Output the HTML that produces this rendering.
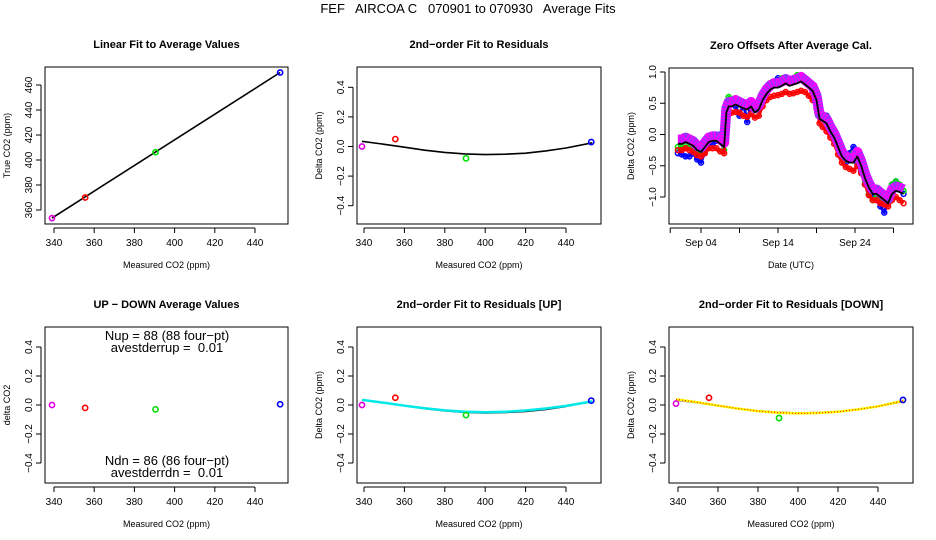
<!DOCTYPE html>
<html><head><meta charset="utf-8"><style>
body{margin:0;background:#fff}
svg{display:block;font-family:"Liberation Sans",sans-serif}
text{white-space:pre}
</style></head><body>
<svg id="c" width="936" height="540" viewBox="0 0 936 540">
<text x="468" y="13" font-size="13" text-anchor="middle" xml:space="preserve">FEF   AIRCOA C   070901 to 070930   Average Fits</text>
</svg>
<script>
// ---- data ----
const calX = [339, 355.5, 390.5, 452.5];
const calColors = ['#e000e0', '#ff0000', '#00e000', '#0000ff'];
const trueCO2 = [353.5, 370, 406.2, 470];
const residAll = [0.0, 0.05, -0.08, 0.03];
const residUp = [0.0, 0.05, -0.07, 0.03];
const residDn = [0.01, 0.05, -0.09, 0.035];
const upMinusDown = [0.0, -0.02, -0.03, 0.005];
const fitX = [339, 350, 360, 370, 380, 390, 400, 410, 420, 430, 440, 453];
const fitAll = [0.035, 0.015, -0.005, -0.025, -0.04, -0.05, -0.055, -0.052, -0.045, -0.03, -0.01, 0.025];
const fitUp = [0.035, 0.015, -0.005, -0.022, -0.037, -0.047, -0.05, -0.047, -0.038, -0.024, -0.006, 0.025];
const fitDn = [0.04, 0.018, -0.004, -0.025, -0.042, -0.053, -0.058, -0.055, -0.046, -0.03, -0.01, 0.03];
const xTicks = [340, 360, 380, 400, 420, 440];
const yTicksTrue = [360, 380, 400, 420, 440, 460];
const yTicksResid = [-0.4, -0.2, 0.0, 0.2, 0.4];
const yTicksZero = [-1.0, -0.5, 0.0, 0.5, 1.0];
const dayX = [1, 1.5, 2, 2.5, 3, 3.5, 4, 4.5, 5, 5.5, 6, 6.5, 7, 7.3, 7.6, 8, 8.5, 9, 9.5, 10, 10.5, 11, 11.5, 12, 12.5, 13, 13.5, 14, 14.5, 15, 15.5, 16, 16.5, 17, 17.5, 18, 18.5, 19, 19.4, 19.8, 20.3, 20.8, 21.3, 21.8, 22.3, 22.8, 23.3, 23.8, 24.3, 24.8, 25.3, 25.8, 26.3, 26.8, 27.3, 27.8, 28.3, 28.8, 29.3, 29.8, 30.3];
const zeroMean = [-0.15, -0.15, -0.12, -0.15, -0.18, -0.25, -0.28, -0.2, -0.12, -0.1, -0.1, -0.15, -0.2, 0.35, 0.45, 0.45, 0.48, 0.45, 0.42, 0.4, 0.45, 0.35, 0.4, 0.55, 0.65, 0.72, 0.75, 0.75, 0.78, 0.82, 0.78, 0.8, 0.82, 0.85, 0.8, 0.75, 0.7, 0.55, 0.25, 0.22, 0.18, 0.05, -0.05, -0.2, -0.35, -0.42, -0.45, -0.45, -0.35, -0.5, -0.7, -0.85, -0.95, -0.95, -1.0, -1.05, -1.1, -0.95, -0.9, -0.92, -0.95];
const zeroRed = [-0.25, -0.25, -0.22, -0.25, -0.28, -0.33, -0.35, -0.3, -0.22, -0.22, -0.22, -0.27, -0.3, 0.25, 0.32, 0.35, 0.36, 0.35, 0.3, 0.28, 0.33, 0.27, 0.3, 0.45, 0.55, 0.6, 0.62, 0.63, 0.65, 0.68, 0.65, 0.66, 0.68, 0.7, 0.68, 0.62, 0.55, 0.42, 0.18, 0.12, 0.05, -0.05, -0.15, -0.32, -0.45, -0.52, -0.55, -0.58, -0.5, -0.62, -0.8, -0.97, -1.05, -1.05, -1.1, -1.12, -1.15, -1.05, -1.0, -1.05, -1.1];
const zeroBlue = [-0.3, -0.32, -0.35, -0.35, -0.3, -0.4, -0.45, -0.28, -0.2, -0.15, -0.1, 0.0, -0.15, 0.3, 0.5, 0.5, 0.45, 0.3, 0.5, 0.2, 0.5, 0.4, 0.4, 0.6, 0.75, 0.8, 0.85, 0.9, 0.85, 0.88, 0.85, 0.9, 0.9, 0.9, 0.85, 0.8, 0.75, 0.55, 0.35, 0.25, 0.3, 0.1, -0.05, -0.2, -0.35, -0.45, -0.3, -0.2, -0.45, -0.6, -0.8, -0.9, -0.95, -1.05, -1.15, -1.25, -1.05, -0.8, -0.75, -0.85, -0.95];
const zeroGreen = [-0.2, -0.2, -0.18, -0.2, -0.25, -0.28, -0.3, -0.15, -0.05, 0.0, -0.05, -0.1, -0.25, 0.3, 0.6, 0.55, 0.55, 0.5, 0.5, 0.45, 0.5, 0.4, 0.45, 0.65, 0.75, 0.8, 0.85, 0.85, 0.9, 0.9, 0.88, 0.9, 0.95, 0.9, 0.85, 0.82, 0.78, 0.55, 0.3, 0.25, 0.2, 0.15, 0.0, -0.2, -0.3, -0.4, -0.35, -0.3, -0.4, -0.55, -0.75, -0.95, -1.05, -1.0, -1.05, -1.1, -1.05, -0.8, -0.75, -0.8, -0.9];
const dateTickDays = [0, 4, 9, 14, 19, 24, 29];
const dateTickLabels = ['', 'Sep 04', '', 'Sep 14', '', 'Sep 24', ''];

const NS = 'http://www.w3.org/2000/svg';
const svg = document.getElementById('c');
function mk(tag, attrs, parent) {
  const e = document.createElementNS(NS, tag);
  for (const k in attrs) e.setAttribute(k, attrs[k]);
  (parent || svg).appendChild(e);
  return e;
}
function txt(parent, x, y, s, size, extra) {
  const t = mk('text', Object.assign({x: x, y: y, 'font-size': size, 'text-anchor': 'middle'}, extra || {}), parent);
  t.textContent = s;
  return t;
}
function fmt(v, d) { return v.toFixed(d).replace('-', '\u2212'); }

function panel(p) {
  const g = mk('g', {});
  
  
  const b = p.box;
  const fr = mk('rect', {x: b[0], y: b[1], width: b[2] - b[0], height: b[3] - b[1], fill: 'none', stroke: '#000', 'stroke-width': 1}, g);
  
  
  const tt = txt(g, (b[0] + b[2]) / 2, b[1] - 19, p.title, 11, {'font-weight': 'bold'});
  
  
  const xa = mk('g', {}, g);
  
  
  const xs = p.xt.map(p.sx);
  mk('line', {x1: xs[0], x2: xs[xs.length - 1], y1: b[3] + 4, y2: b[3] + 4, stroke: '#000'}, xa);
  p.xt.forEach((v, i) => {
    mk('line', {x1: xs[i], x2: xs[i], y1: b[3] + 4, y2: b[3] + 9, stroke: '#000'}, xa);
    if (p.xl[i]) {
      const t = txt(xa, xs[i], b[3] + 22, p.xl[i], 10);
      
      
    }
  });
  const xt = txt(g, (b[0] + b[2]) / 2, b[3] + 44, p.xlab, 9);
  
  
  const ya = mk('g', {}, g);
  
  
  const ys = p.yt.map(p.sy);
  const ax = b[0] - 4;
  mk('line', {x1: ax, x2: ax, y1: ys[0], y2: ys[ys.length - 1], stroke: '#000'}, ya);
  p.yt.forEach((v, i) => {
    mk('line', {x1: ax - 5, x2: ax, y1: ys[i], y2: ys[i], stroke: '#000'}, ya);
    const t = txt(ya, 0, 0, p.yl[i], 10, {transform: 'translate(' + (ax - 9) + ',' + ys[i] + ') rotate(-90)'});
    
    
  });
  const yy = (b[1] + b[3]) / 2;
  const yt = txt(g, 0, 0, p.ylab, 9, {transform: 'translate(' + (b[0] - 35) + ',' + yy + ') rotate(-90)'});
  
  
  return g;
}
function pts(g, xv, yv, sx, sy, name) {
  xv.forEach((x, i) => {
    const c = mk('circle', {cx: sx(x), cy: sy(yv[i]), r: 2.6, fill: 'none', stroke: calColors[i], 'stroke-width': 1.6}, g);
    
    
  });
}
function line(g, xv, yv, sx, sy, color, w, name, dash) {
  const d = xv.map((x, i) => (i ? 'L' : 'M') + sx(x).toFixed(1) + ',' + sy(yv[i]).toFixed(1)).join('');
  const a = {d: d, fill: 'none', stroke: color, 'stroke-width': w, 'stroke-linejoin': 'round'};
  if (dash) a['stroke-dasharray'] = dash;
  const l = mk('path', a, g);
  
  
  return l;
}
const fx = t => fmt(t, 0);
const fr1 = t => fmt(t, 1);

{
  const sx = v => 54 + (v - 340) * 2.01, sy = v => 210 - (v - 360) * 1.25;
  const g = panel({name: 'linear-fit-panel', box: [45, 67, 288, 224], title: 'Linear Fit to Average Values', xt: xTicks, xl: xTicks.map(fx), sx: sx, yt: yTicksTrue, yl: yTicksTrue.map(fx), sy: sy, xlab: 'Measured CO2 (ppm)', ylab: 'True CO2 (ppm)'});
  line(g, [calX[0], calX[3]], [trueCO2[0], trueCO2[3]], sx, sy, '#000', 1.6, 'linear-fit-line');
  pts(g, calX, trueCO2, sx, sy, 'calibration');
}
{
  const sx = v => 364 + (v - 340) * 2.02, sy = v => 146.5 - v * 148;
  const g = panel({name: 'residual-fit-panel', box: [357, 67, 601, 224], title: '2nd\u2212order Fit to Residuals', xt: xTicks, xl: xTicks.map(fx), sx: sx, yt: yTicksResid, yl: yTicksResid.map(fr1), sy: sy, xlab: 'Measured CO2 (ppm)', ylab: 'Delta CO2 (ppm)'});
  line(g, fitX, fitAll, sx, sy, '#000', 1.6, 'quadratic-fit-line');
  pts(g, calX, residAll, sx, sy, 'residual');
}
{
  const sx = d => 701 + (d - 4) * 7.7, sy = v => 134.5 - v * 62.5;
  const g = panel({name: 'zero-offsets-panel', box: [669, 68, 913, 224], title: 'Zero Offsets After Average Cal.', xt: dateTickDays, xl: dateTickLabels, sx: sx, yt: yTicksZero, yl: yTicksZero.map(fr1), sy: sy, xlab: 'Date (UTC)', ylab: 'Delta CO2 (ppm)'});
  const series = [[zeroBlue, '#0000ff', 'blue-offsets'], [zeroGreen, '#00e000', 'green-offsets'], [zeroRed, '#ff0000', 'red-offsets']];
  series.forEach(s => {
    line(g, dayX, s[0], sx, sy, s[1], 3, s[2] + '-band');
    dayX.forEach((d, i) => {
      const c = mk('circle', {cx: sx(d), cy: sy(s[0][i]), r: 2.5, fill: 'none', stroke: s[1], 'stroke-width': 1.5}, g);
      
      
    });
  });
  const magOff = zeroMean.map(v => v + 0.07);
  line(g, dayX, magOff, sx, sy, '#9a30ff', 10, 'magenta-offsets-band');
  line(g, dayX, magOff, sx, sy, '#ff00ff', 10, 'magenta-offsets-texture', '1.5 1.5');
  line(g, dayX, zeroMean, sx, sy, '#000', 1.8, 'mean-offset-line');
}
{
  const sx = v => 54 + (v - 340) * 2.01, sy = v => 405 - v * 145;
  const g = panel({name: 'up-down-panel', box: [45, 327, 288, 483], title: 'UP \u2212 DOWN Average Values', xt: xTicks, xl: xTicks.map(fx), sx: sx, yt: yTicksResid, yl: yTicksResid.map(fr1), sy: sy, xlab: 'Measured CO2 (ppm)', ylab: 'delta CO2'});
  pts(g, calX, upMinusDown, sx, sy, 'up-down');
  [['Nup = 88 (88 four\u2212pt)', 340], ['avestderrup =  0.01', 352], ['Ndn = 86 (86 four\u2212pt)', 465], ['avestderrdn =  0.01', 477]].forEach(a => {
    const t = txt(g, 167, a[1], a[0], 13);
    
    
  });
}
{
  const sx = v => 364 + (v - 340) * 2.02, sy = v => 405 - v * 145;
  const g = panel({name: 'residual-fit-up-panel', box: [357, 327, 601, 483], title: '2nd\u2212order Fit to Residuals [UP]', xt: xTicks, xl: xTicks.map(fx), sx: sx, yt: yTicksResid, yl: yTicksResid.map(fr1), sy: sy, xlab: 'Measured CO2 (ppm)', ylab: 'Delta CO2 (ppm)'});
  line(g, fitX, fitAll, sx, sy, '#000', 1.6, 'average-fit-line');
  line(g, fitX, fitUp, sx, sy, '#00e8e8', 2.5, 'up-fit-line');
  pts(g, calX, residUp, sx, sy, 'up-residual');
}
{
  const sx = v => 678 + (v - 340) * 2.0, sy = v => 405 - v * 145;
  const g = panel({name: 'residual-fit-down-panel', box: [669, 327, 913, 483], title: '2nd\u2212order Fit to Residuals [DOWN]', xt: xTicks, xl: xTicks.map(fx), sx: sx, yt: yTicksResid, yl: yTicksResid.map(fr1), sy: sy, xlab: 'Measured CO2 (ppm)', ylab: 'Delta CO2 (ppm)'});
  line(g, fitX, fitAll, sx, sy, '#000', 1.6, 'average-fit-line');
  line(g, fitX, fitDn, sx, sy, '#ffff00', 2.5, 'down-fit-line');
  line(g, fitX, fitDn, sx, sy, '#ff0000', 1, 'down-fit-dots', '1 2');
  pts(g, calX, residDn, sx, sy, 'down-residual');
}
</script>
</body></html>
